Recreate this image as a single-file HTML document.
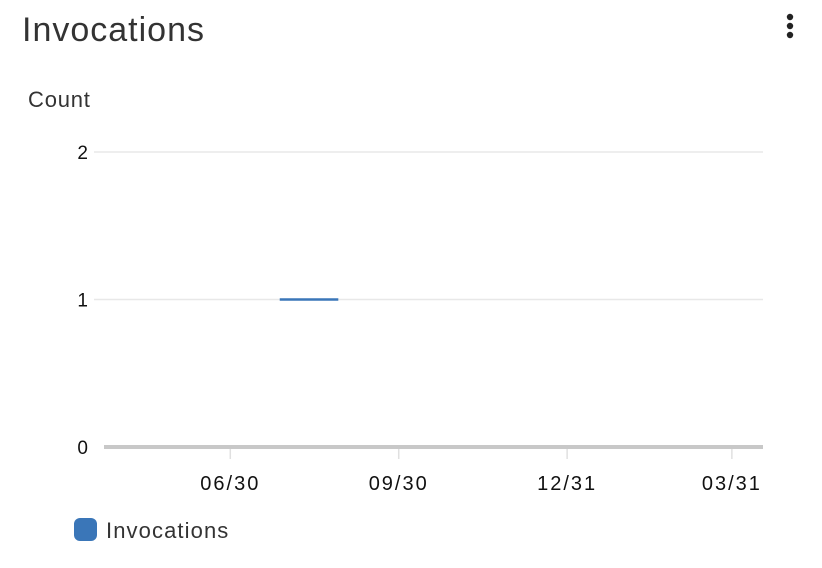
<!DOCTYPE html>
<html><head><meta charset="utf-8"><style>
body{margin:0;background:#fff;font-family:"Liberation Sans",sans-serif;}
#wrap{position:relative;width:822px;height:568px;overflow:hidden;}
</style></head><body>
<div id="wrap">
<svg id="chart" width="822" height="568">
<text x="22" y="41" font-size="34" letter-spacing="1" fill="#333">Invocations</text>
<g fill="#222">
<circle cx="790" cy="17" r="3.2"/><circle cx="790" cy="26" r="3.2"/><circle cx="790" cy="35" r="3.2"/>
</g>
<text x="28" y="107" font-size="22" letter-spacing="0.8" fill="#333">Count</text>
<g id="grid"></g><g id="xaxis"></g><g id="series"></g>
<rect x="74" y="518" width="23" height="23" rx="6" fill="#3a76b8"/>
<text x="106" y="538" font-size="22" letter-spacing="1.1" fill="#333">Invocations</text>
</svg>
</div>
<script>
// days relative to 06/30
const xTickLabels=["06/30","09/30","12/31","03/31"];
const xTickDays=[0,92,184,274];
const yTicks=[0,1,2];
const pointDays=[27,59];
const pointValues=[1,1];
const ns="http://www.w3.org/2000/svg";
const X0=104,X1=763,D0=-69,D1=291;
const x=d=>X0+(d-D0)/(D1-D0)*(X1-X0);
const y=v=>447-v*147.5;
function mk(t,a,p){const e=document.createElementNS(ns,t);for(const k in a)e.setAttribute(k,a[k]);p.appendChild(e);return e;}
const grid=document.getElementById('grid');
yTicks.forEach(v=>{
 if(v>0){const l=mk('line',{x1:94,x2:763,y1:y(v),y2:y(v),stroke:'#e8e8e8','stroke-width':1.5},grid);
 
 }
 const t=mk('text',{x:88,y:y(v)+7,'font-size':19,fill:'#111','text-anchor':'end'},grid);
 t.textContent=v;
 
 
});
const xa=document.getElementById('xaxis');
const base=mk('line',{x1:X0,x2:X1,y1:447,y2:447,stroke:'#c8c8c8','stroke-width':4},xa);


xTickDays.forEach((d,i)=>{
 const tk=mk('line',{x1:x(d),x2:x(d),y1:449,y2:459,stroke:'#e0e0e0','stroke-width':1.5},xa);
 
 
 const t=mk('text',{x:x(d),y:490,'font-size':20,'letter-spacing':2,fill:'#111','text-anchor':'middle'},xa);
 t.textContent=xTickLabels[i];
 
 
});
const s=document.getElementById('series');
const pts=pointDays.map((d,i)=>x(d)+','+y(pointValues[i])).join(' ');
const pl=mk('polyline',{points:pts,fill:'none',stroke:'#3a76b8','stroke-width':2.5},s);


</script>
</body></html>
